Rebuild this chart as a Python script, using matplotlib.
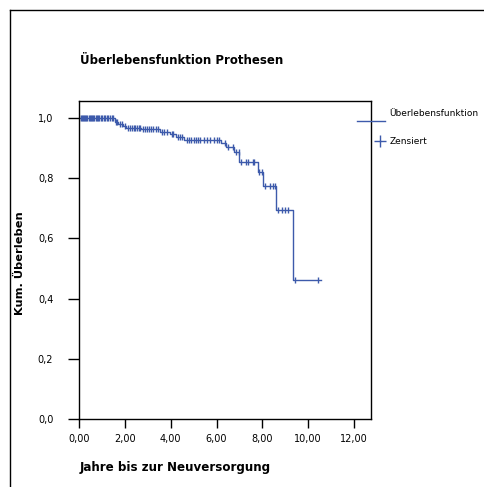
import numpy as np
import matplotlib
matplotlib.use("Agg")
import matplotlib.pyplot as plt
from matplotlib.lines import Line2D

# ---- data ----
step_times = [0.0, 1.57, 1.71, 1.93, 2.07, 2.72, 3.52, 3.96, 4.25, 4.60, 6.20, 6.42, 6.78, 7.00, 7.80, 8.01, 8.60, 9.34]
step_surv = [1.0, 0.988, 0.980, 0.973, 0.968, 0.963, 0.954, 0.946, 0.936, 0.927, 0.916, 0.904, 0.886, 0.854, 0.821, 0.773, 0.696, 0.463]
end_time = 10.55
censor_times = [0.02, 0.08, 0.12, 0.17, 0.22, 0.27, 0.32, 0.37, 0.42, 0.47, 0.52, 0.57, 0.62, 0.67,
                0.72, 0.77, 0.82, 0.88, 0.95, 1.02, 1.08, 1.15, 1.22, 1.28, 1.35, 1.42, 1.50,
                1.62, 1.66, 1.80, 1.87, 2.00, 2.15, 2.22, 2.30, 2.38, 2.45, 2.52, 2.60, 2.66,
                2.80, 2.88, 2.95, 3.05, 3.15, 3.25, 3.35, 3.45, 3.60, 3.70, 3.85, 4.05, 4.12,
                4.32, 4.40, 4.50, 4.70, 4.80, 4.90, 5.00, 5.10, 5.20, 5.30, 5.45, 5.60, 5.70,
                5.90, 6.00, 6.10, 6.35, 6.50, 6.72, 6.85, 6.96, 7.06, 7.28, 7.36, 7.57, 7.65,
                7.87, 7.99, 8.13, 8.35, 8.45, 8.57, 8.70, 8.86, 9.00, 9.14, 9.42, 10.43]
x_ticks = [0, 2, 4, 6, 8, 10, 12]
x_ticklabels = ["0,00", "2,00", "4,00", "6,00", "8,00", "10,00", "12,00"]
y_ticks = [0.0, 0.2, 0.4, 0.6, 0.8, 1.0]
y_ticklabels = ["0,0", "0,2", "0,4", "0,6", "0,8", "1,0"]
title = "Überlebensfunktion Prothesen"
xlabel = "Jahre bis zur Neuversorgung"
ylabel = "Kum. Überleben"
legend_labels = ["Überlebensfunktion", "Zensiert"]

BLUE = "#3d5aab"
plt.rcParams['font.family'] = ['DejaVu Sans']

W, H = 485, 487
fig = plt.figure(figsize=(W / 100, H / 100), dpi=100)
ax = fig.add_axes([79 / W, 1 - 419 / H, (371 - 79) / W, (419 - 101) / H])

xs = list(step_times) + [end_time]
ys = list(step_surv) + [step_surv[-1]]
ax.step(xs, ys, where='post', color=BLUE, lw=1.0)

idx = np.searchsorted(step_times, censor_times, side='right') - 1
c_y = np.array(step_surv)[idx]
ax.plot(censor_times, c_y, linestyle='none', marker='|', markersize=4.5, mew=1.0, color=BLUE)

ax.set_xlim(0, 12.74)
ax.set_ylim(0, 1.057)
ax.set_xticks(x_ticks)
ax.set_xticklabels(x_ticklabels)
ax.set_yticks(y_ticks)
ax.set_yticklabels(y_ticklabels)
ax.tick_params(axis='both', direction='out', width=1, labelsize=7, color='black')
ax.tick_params(axis='x', length=6.5, pad=4.5)
ax.tick_params(axis='y', length=8, pad=10.5)
for s in ax.spines.values():
    s.set_linewidth(1.0)

fig.text(80 / W, 1 - 60 / H, title, fontsize=8.5, fontweight='bold', va='center', ha='left')
fig.text(80 / W, 1 - 467 / H, xlabel, fontsize=8.6, fontweight='bold', va='center', ha='left')
fig.text(20 / W, 1 - 263 / H, ylabel, fontsize=8.2, fontweight='bold', va='center', ha='center', rotation=90)

# legend (outside right)
fig.add_artist(Line2D([357 / W, 385 / W], [1 - 121 / H, 1 - 121 / H], color=BLUE, lw=1.0))
fig.text(389 / W, 1 - 114 / H, legend_labels[0], fontsize=6.5, va='center', ha='left')
fig.add_artist(Line2D([380 / W], [1 - 141 / H], marker='+', markersize=8, mew=1.0, color=BLUE))
fig.text(390 / W, 1 - 141 / H, legend_labels[1], fontsize=6.5, va='center', ha='left')

# outer frame
fig.add_artist(Line2D([10 / W, 1], [1 - 10 / H, 1 - 10 / H], color='black', lw=1.0))
fig.add_artist(Line2D([10 / W, 10 / W], [1 - 10 / H, 0], color='black', lw=1.0))

fig.savefig("out.png", dpi=100)
